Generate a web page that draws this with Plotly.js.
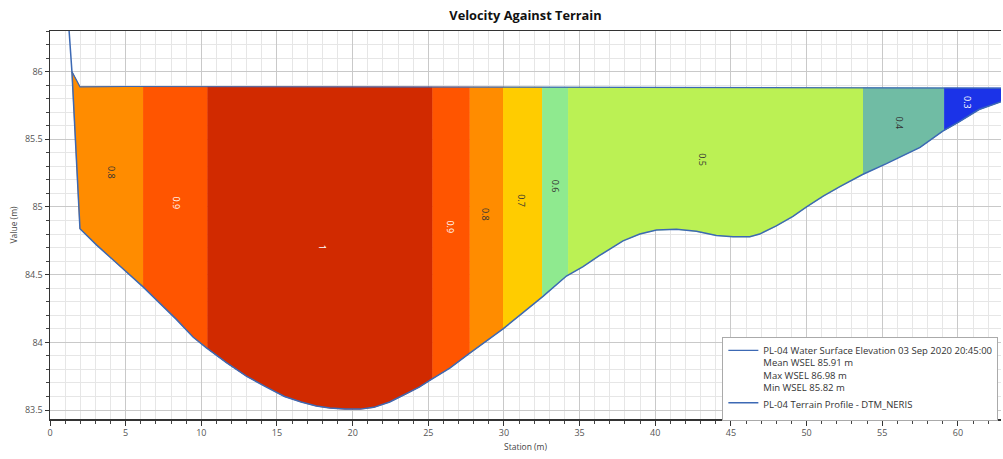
<!DOCTYPE html>
<html>
<head>
<meta charset="utf-8">
<script src="https://cdn.plot.ly/plotly-3.0.1.min.js"></script>
<style>html,body{margin:0;padding:0;background:#fff;}#chart{width:1003px;height:459px;}</style>
</head>
<body>
<div id="chart"></div>
<script>
// Terrain profile (station m, elevation m)
const terrainStation = [1.2, 1.45, 1.98, 3.07, 4.16, 5.16, 6.15, 7.25, 8.35, 9.45, 10.34, 11.66, 12.98, 14.3, 15.5, 16.6, 17.6, 18.5, 19.5, 20.5, 21.4, 22.45, 23.56, 24.4, 25.1, 26.42, 27.74, 29.06, 29.94, 31.26, 32.58, 34.13, 35.23, 36.3, 37.87, 38.98, 40.08, 41.4, 42.72, 44.04, 45.14, 46.25, 46.9, 48.0, 49.1, 50.0, 51.1, 52.2, 53.7, 55.28, 57.5, 59.0, 60.1, 61.4, 62.9];
const terrainElev = [86.4, 86.0, 84.84, 84.72, 84.61, 84.51, 84.41, 84.29, 84.17, 84.04, 83.96, 83.85, 83.75, 83.67, 83.6, 83.56, 83.53, 83.515, 83.507, 83.507, 83.52, 83.56, 83.62, 83.67, 83.72, 83.81, 83.92, 84.03, 84.1, 84.22, 84.34, 84.49, 84.56, 84.64, 84.75, 84.80, 84.83, 84.836, 84.82, 84.79, 84.78, 84.78, 84.80, 84.86, 84.93, 85.0, 85.08, 85.15, 85.24, 85.32, 85.44, 85.56, 85.63, 85.72, 85.78];
// Water surface elevation
const wsStation = [1.45, 1.98, 5.0, 62.9];
const wsElev = [86.0, 85.888, 85.89, 85.878];
// Velocity bands: edges (station) and velocity values
const bandEdges = [1.45, 6.15, 10.4, 25.27, 27.74, 29.94, 32.52, 34.24, 53.73, 59.09, 62.9];
const bandVelocity = [0.8, 0.9, 1, 0.9, 0.8, 0.7, 0.6, 0.5, 0.4, 0.3];
const legendNames = [
  "PL-04 Water Surface Elevation 03 Sep 2020 20:45:00<br>Mean WSEL 85.91 m<br>Max WSEL 86.98 m<br>Min WSEL 85.82 m",
  "PL-04 Terrain Profile - DTM_NERIS"
];

// styling
const bandColorMap = {"1": "#d12a00", "0.9": "#ff5500", "0.8": "#ff8c00", "0.7": "#ffcc00", "0.6": "#8fea8f", "0.5": "#bbf154", "0.4": "#70bca4", "0.3": "#1b33e8"};
const labelColorMap = {"1": "#ffffff", "0.9": "#ffffff", "0.8": "#333333", "0.7": "#333333", "0.6": "#333333", "0.5": "#333333", "0.4": "#333333", "0.3": "#ffffff"};
const lineColor = "#3c69b4";
const FONT = "Open Sans, Noto Sans, sans-serif";

function interp(xs, ys, x) {
  if (x <= xs[0]) return ys[0];
  for (let i = 1; i < xs.length; i++) {
    if (x <= xs[i]) {
      const t = (x - xs[i - 1]) / (xs[i] - xs[i - 1]);
      return ys[i - 1] + t * (ys[i] - ys[i - 1]);
    }
  }
  return ys[ys.length - 1];
}
const water = x => interp(wsStation, wsElev, x);
const terrain = x => interp(terrainStation, terrainElev, x);

const traces = [];
const annotations = [];
for (let b = 0; b < bandVelocity.length; b++) {
  const a = bandEdges[b], c = bandEdges[b + 1];
  const px = [], py = [];
  // top edge (water surface) left to right
  px.push(a); py.push(water(a));
  wsStation.forEach((s, i) => { if (s > a && s < c) { px.push(s); py.push(wsElev[i]); } });
  px.push(c); py.push(water(c));
  // bottom edge (terrain) right to left
  px.push(c); py.push(terrain(c));
  for (let i = terrainStation.length - 1; i >= 0; i--) {
    const s = terrainStation[i];
    if (s > a && s < c) { px.push(s); py.push(terrainElev[i]); }
  }
  px.push(a); py.push(terrain(a));
  const key = String(bandVelocity[b]);
  traces.push({
    x: px, y: py, type: "scatter", mode: "lines", fill: "toself",
    fillcolor: bandColorMap[key], line: {width: 0.8, color: bandColorMap[key]},
    showlegend: false, hoverinfo: "skip"
  });
  // label at area centroid (station), mid-depth (elevation)
  let sw = 0, sxw = 0;
  const N = 300;
  for (let k = 0; k <= N; k++) {
    const x = a + (c - a) * k / N;
    const d = Math.max(0, water(x) - terrain(x));
    sw += d; sxw += x * d;
  }
  const cx = sxw / sw;
  annotations.push({
    x: cx, y: (water(cx) + terrain(cx)) / 2, xref: "x", yref: "y",
    text: key === "1" ? "1" : bandVelocity[b].toFixed(1), showarrow: false, textangle: 90,
    font: {family: FONT, size: 9, color: labelColorMap[key]}
  });
}

traces.push({
  x: wsStation, y: wsElev, type: "scatter", mode: "lines",
  name: legendNames[0], line: {color: lineColor, width: 1.2}
});
traces.push({
  x: terrainStation, y: terrainElev, type: "scatter", mode: "lines",
  name: legendNames[1], line: {color: lineColor, width: 1.5}
});

const layout = {
  width: 1003, height: 459,
  margin: {l: 50, r: 2, t: 31, b: 40, autoexpand: false},
  paper_bgcolor: "#ffffff", plot_bgcolor: "#ffffff",
  font: {family: FONT, size: 9, color: "#444"},
  title: {text: "<b>Velocity Against Terrain</b>", font: {family: FONT, size: 12.8, color: "#111"},
          x: 0.5, xref: "paper", y: 0.967, yanchor: "middle"},
  xaxis: {
    range: [0, 62.85], dtick: 5, tick0: 0,
    showgrid: true, gridcolor: "#c9c9c9", gridwidth: 1,
    minor: {dtick: 1, showgrid: true, gridcolor: "#e6e6e6", ticks: "outside", ticklen: 3, tickcolor: "#444"},
    ticks: "outside", ticklen: 5, tickcolor: "#333",
    showline: true, linecolor: "#333", linewidth: 1.5, mirror: true, zeroline: false,
    tickfont: {family: FONT, size: 9, color: "#555"},
    title: {text: "Station (m)", font: {family: FONT, size: 8.5, color: "#444"}, standoff: 6}
  },
  yaxis: {
    range: [83.434, 86.30], dtick: 0.5, tick0: 83.5,
    showgrid: true, gridcolor: "#c9c9c9", gridwidth: 1,
    minor: {dtick: 0.1, showgrid: true, gridcolor: "#e6e6e6", ticks: "outside", ticklen: 3, tickcolor: "#444"},
    ticks: "outside", ticklen: 4, tickcolor: "#333",
    showline: true, linecolor: "#333", linewidth: 1.5, zeroline: false,
    tickfont: {family: FONT, size: 9, color: "#555"},
    title: {text: "Value (m)", font: {family: FONT, size: 8.5, color: "#444"}, standoff: 6}
  },
  showlegend: true,
  legend: {
    x: 0.707, y: 0.212, xanchor: "left", yanchor: "top", valign: "top",
    bgcolor: "#ffffff", bordercolor: "#aaaaaa", borderwidth: 1,
    font: {family: FONT, size: 9.5, color: "#333"}, itemwidth: 30, tracegroupgap: 0
  },
  annotations: annotations
};

Plotly.newPlot("chart", traces, layout, {displayModeBar: false, staticPlot: true});
</script>
</body>
</html>
